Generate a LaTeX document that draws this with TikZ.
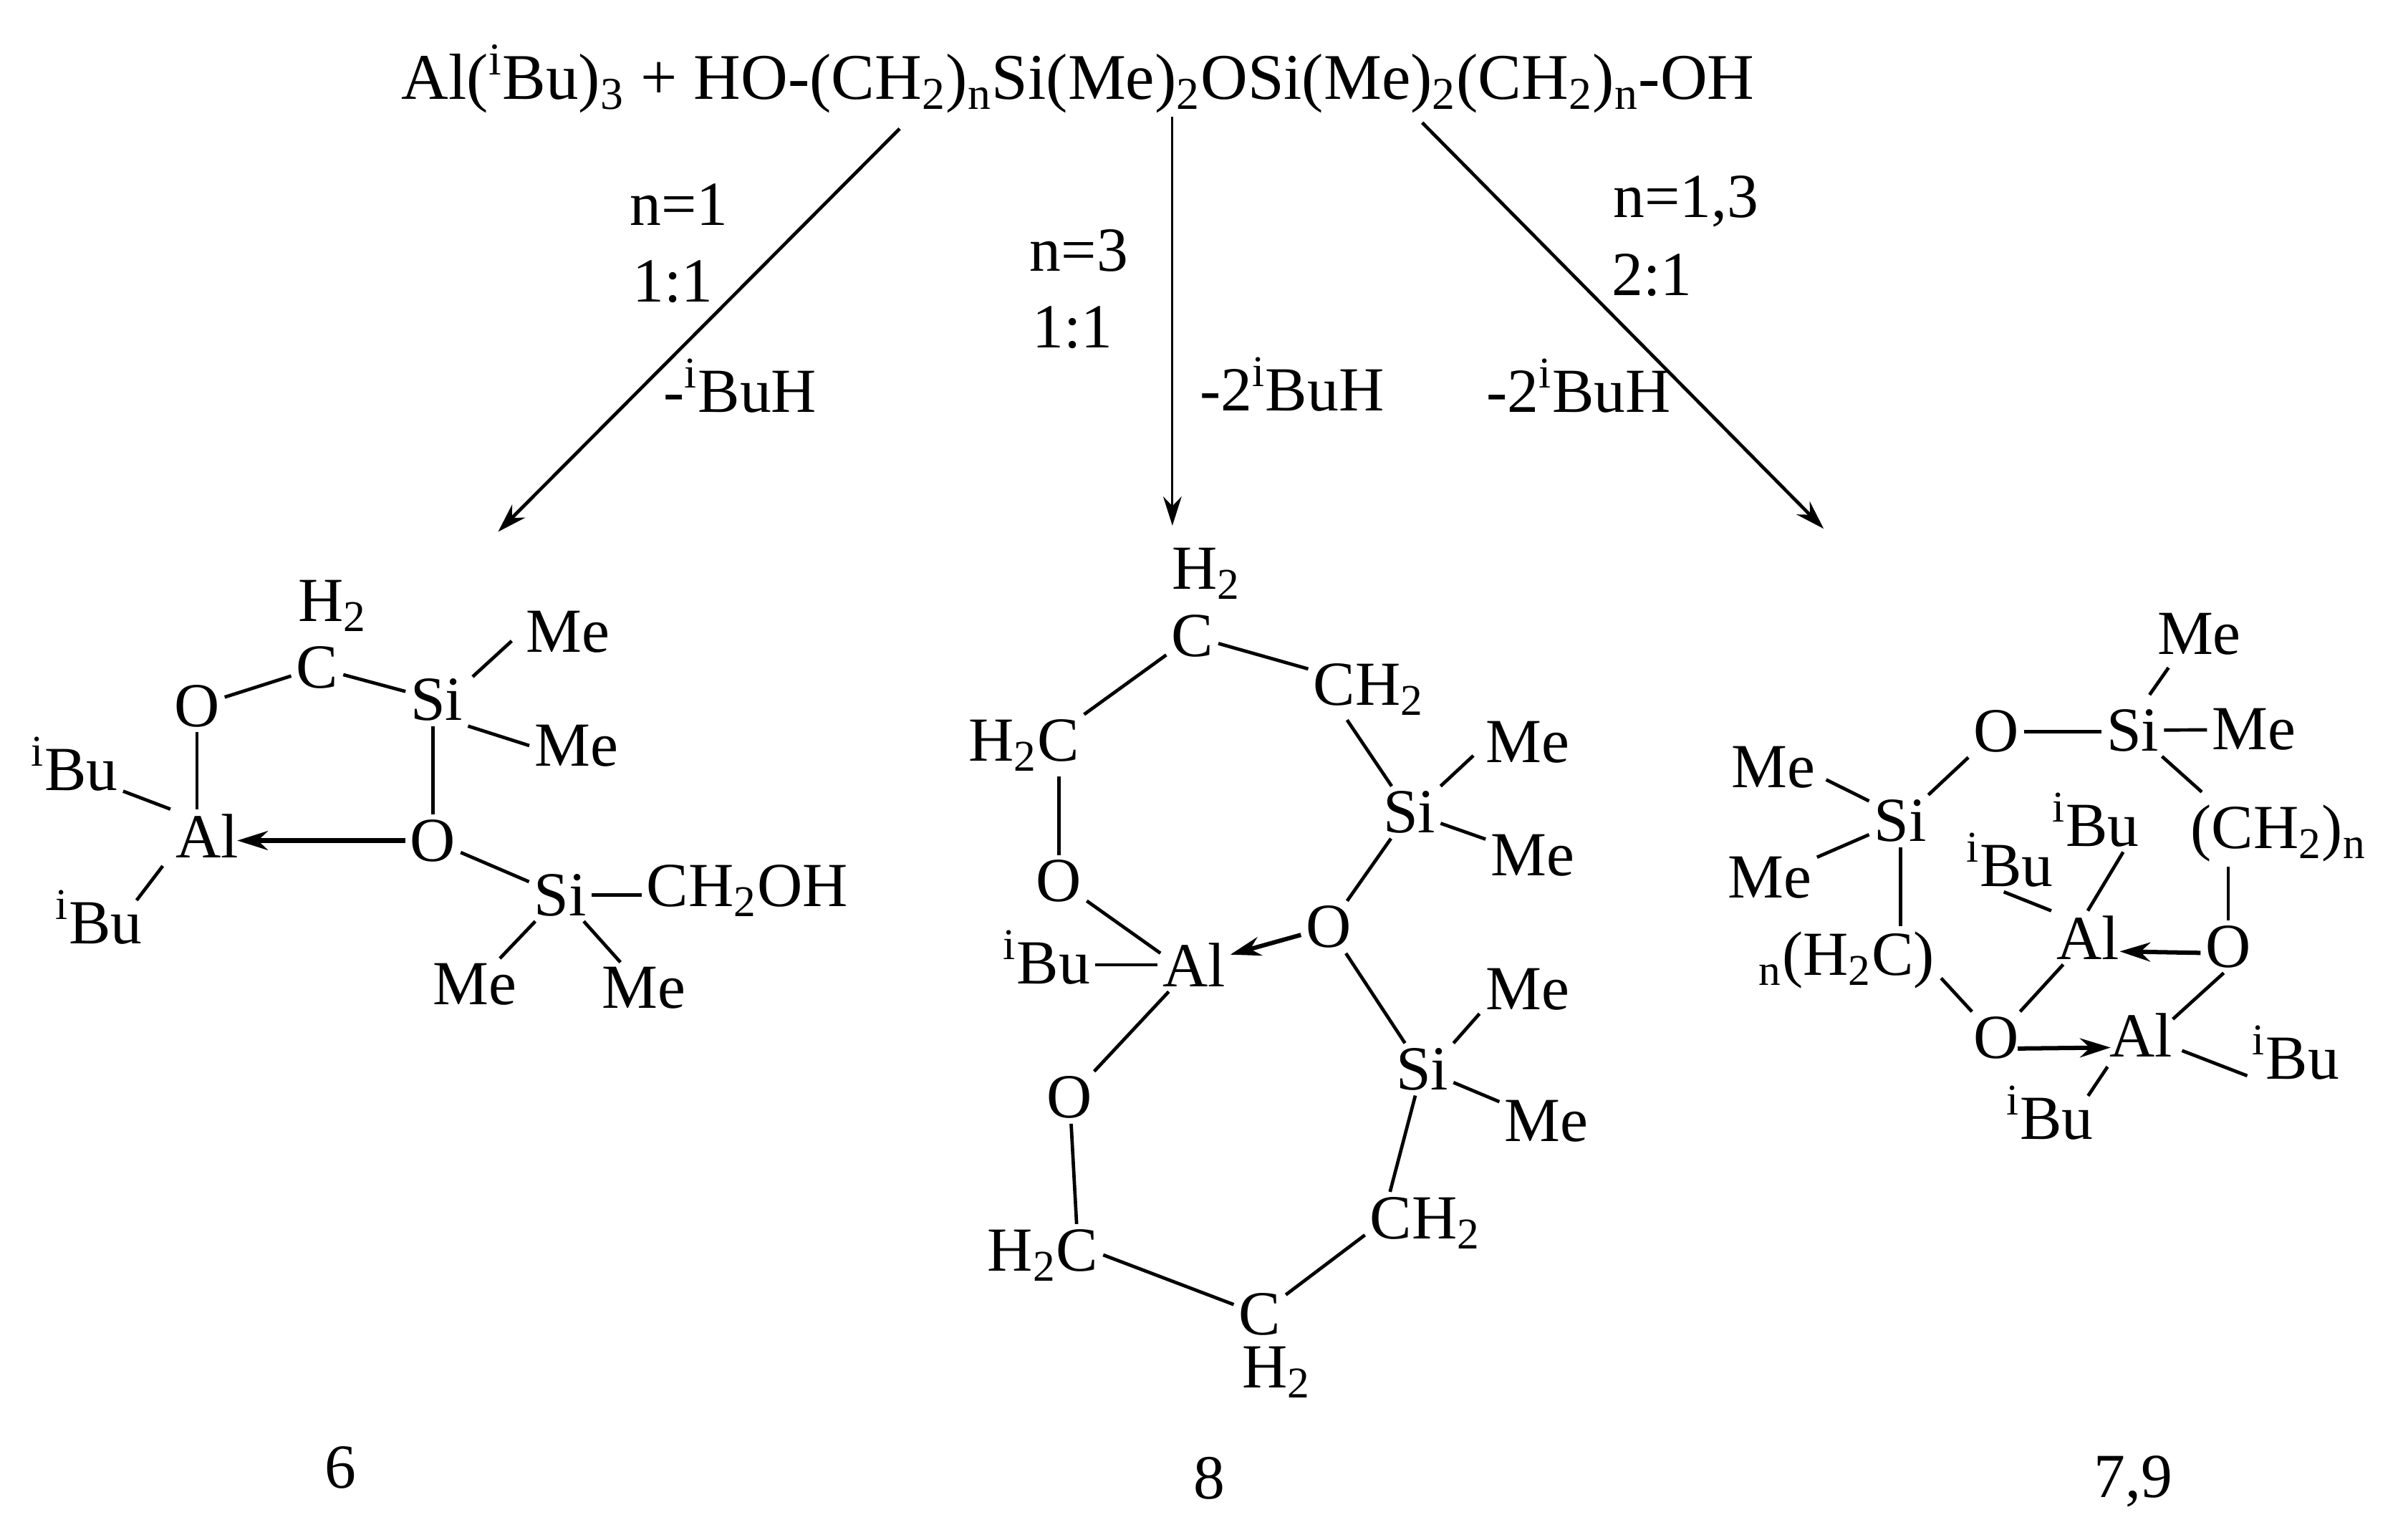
\documentclass[tikz,border=0pt]{standalone}
\usepackage{fontspec}
\setmainfont{Liberation Serif}
\usetikzlibrary{arrows.meta}
\newcommand{\iBu}{\textsuperscript{i}Bu}
\newcommand{\two}{\textsubscript{2}}
\tikzset{
  atom/.style={anchor=base, inner sep=1.7pt, font=\fontsize{23.3}{26}\selectfont},
  bond/.style={line width=1.25pt},
  dative/.style={line width=1.6pt, -{Stealth[length=0.4cm,width=0.25cm]}},
  route/.style={line width=1.25pt, -{Stealth[length=0.38cm,width=0.24cm]}},
}
\begin{document}
\begin{tikzpicture}[x=0.02cm,y=-0.02cm]
\useasboundingbox (0,0) rectangle (1568,1004.8);
% reaction line
\node[atom, font=\fontsize{24.2}{27}\selectfont] (start) at (703.5,64.7) {Al(\iBu)\textsubscript{3} + HO-(CH\two)\textsubscript{n}Si(Me)\two OSi(Me)\two(CH\two)\textsubscript{n}-OH};
\coordinate (from6) at (587,84);
\coordinate (to6) at (325,347);
\coordinate (from8) at (765,76);
\coordinate (to8) at (765,343);
\coordinate (from79) at (928,80);
\coordinate (to79) at (1190,345);
\draw[route] (from6)--(to6);
\draw[route, line width=0.8pt] (from8)--(to8);
\draw[route] (from79)--(to79);
%
\node[atom] (cond6a) at (443,147) {n=1};
\node[atom] (cond6b) at (439,197) {1:1};
\node[atom] (cond6c) at (483,269) {-\iBu H};
\node[atom] (cond8a) at (704,177) {n=3};
\node[atom] (cond8b) at (700,227) {1:1};
\node[atom] (cond8c) at (843,268) {-2\iBu H};
\node[atom] (cond79a) at (1100,142) {n=1,3};
\node[atom] (cond79b) at (1078,193) {2:1};
\node[atom] (cond79c) at (1030,269) {-2\iBu H};
%
% compound 6
\node[atom] (h6) at (217,405.4) {H\two};
\node[atom] (c6) at (207,449) {C};
\node[atom] (o6a) at (128.5,474) {O};
\node[atom] (si6a) at (285,470) {Si};
\node[atom] (me6a) at (370.5,425.5) {Me};
\node[atom] (me6b) at (376,499.7) {Me};
\node[atom] (bu6a) at (48.7,515.5) {\iBu};
\node[atom] (al6) at (135,559.7) {Al};
\node[atom] (o6b) at (282.5,561.8) {O};
\node[atom] (bu6b) at (64.5,615.6) {\iBu};
\node[atom] (si6b) at (365.6,597.4) {Si};
\node[atom] (ch6) at (487.6,591.5) {CH\two OH};
\node[atom] (me6c) at (310,655.5) {Me};
\node[atom] (me6d) at (420,658) {Me};
\node[atom] (num6) at (222,971) {6};
%
\draw[bond] (o6a)--(c6);
\draw[bond] (c6)--(si6a);
\draw[bond] ([shift={(3,2)}]si6a.north east)--([shift={(-6,-11)}]me6a.south west);
\draw[bond] (si6a.south east)--(me6b.west);
\draw[bond] (o6b |- si6a.south)--(o6b.north);
\draw[bond] (o6a.south)--(o6a |- al6.north);
\draw[bond] ([shift={(0,-3)}]bu6a.south east)--(al6.north west);
\draw[bond] ([shift={(-5,2)}]al6.south west)--([shift={(-7,10)}]bu6b.north east);
\draw[dative] (o6b.west)--([shift={(-4,0)}]o6b.west -| al6.east);
\draw[bond] (o6b)--(si6b);
\draw[bond] (si6b)--(ch6.west |- si6b);
\draw[bond] (si6b)--(me6c);
\draw[bond] (si6b)--(me6d);
%
% compound 8
\node[atom] (h8a) at (787,384.2) {H\two};
\node[atom] (c8a) at (778,428.4) {C};
\node[atom] (ch8a) at (893,459.9) {CH\two};
\node[atom] (ch8b) at (668,496.6) {H\two C};
\node[atom] (si8a) at (919.6,543.4) {Si};
\node[atom] (me8a) at (997,497.3) {Me};
\node[atom] (me8b) at (1000,571.5) {Me};
\node[atom] (o8a) at (691,588.3) {O};
\node[atom] (o8b) at (867,618.3) {O};
\node[atom] (bu8) at (683,641.9) {\iBu};
\node[atom] (al8) at (779,643.7) {Al};
\node[atom] (o8c) at (698,729.5) {O};
\node[atom] (si8b) at (928,711.1) {Si};
\node[atom] (me8c) at (997,658.7) {Me};
\node[atom] (me8d) at (1009,744.9) {Me};
\node[atom] (ch8c) at (930,808.1) {CH\two};
\node[atom] (ch8d) at (680.5,829.1) {H\two C};
\node[atom] (c8b) at (822,871) {C};
\node[atom] (h8b) at (833,905.5) {H\two};
\node[atom] (num8) at (789,978) {8};
%
\draw[bond] (c8a)--(ch8b.north east);
\draw[bond] (c8a)--([shift={(0,7)}]ch8a.north west);
\draw[bond] (o8a |- ch8b.south)--(o8a.north);
\draw[bond] (o8a)--([shift={(2,10)}]al8.north west);
\draw[bond] (bu8.east |- al8)--(al8.west);
\draw[dative] (o8b)--(al8);
\draw[bond] ([shift={(-14,0)}]ch8a.south)--(si8a);
\draw[bond] (si8a.north east)--([shift={(-5,-8)}]me8a.south west);
\draw[bond] (si8a)--(me8b);
\draw[bond] (si8a)--(o8b);
\draw[bond] (o8b)--(si8b);
\draw[bond] (si8b.north east)--([shift={(-1,-1)}]me8c.south west);
\draw[bond] (si8b)--(me8d);
\draw[bond] (si8b)--([shift={(-23,0)}]ch8c.north);
\draw[bond] (al8)--(o8c);
\draw[bond] (o8c)--([shift={(22,0)}]ch8d.north);
\draw[bond] (ch8d.east)--(c8b);
\draw[bond] (c8b)--([shift={(0,8)}]ch8c.west);
%
% compound 7,9
\node[atom] (me9a) at (1435,426.9) {Me};
\node[atom] (o9a) at (1302.5,490.6) {O};
\node[atom] (si9a) at (1391.6,489.8) {Si};
\node[atom] (me9b) at (1470.7,489.3) {Me};
\node[atom] (me9c) at (1157,514) {Me};
\node[atom] (si9b) at (1240,549.1) {Si};
\node[atom] (bu9a) at (1367.4,552.2) {\iBu};
\node[atom] (bu9b) at (1311.5,578.2) {\iBu};
\node[atom] (ch9a) at (1486.7,553.5) {(CH\two)\textsubscript{n}};
\node[atom] (me9d) at (1155,585.8) {Me};
\node[atom] (ch9b) at (1205,636.2) {\textsubscript{n}(H\two C)};
\node[atom] (al9a) at (1362.3,626) {Al};
\node[atom] (o9b) at (1454,631.1) {O};
\node[atom] (o9c) at (1302.5,690.5) {O};
\node[atom] (al9b) at (1397,689.7) {Al};
\node[atom] (bu9c) at (1498,704.2) {\iBu};
\node[atom] (bu9d) at (1337.5,743.2) {\iBu};
\node[atom] (num9) at (1392,977) {7,9};
%
\draw[bond] ([shift={(-20,5)}]me9a.south)--([shift={(11,-6)}]si9a.north);
\draw[bond] (o9a.east)--(si9a.west |- o9a.east);
\draw[bond] (si9a)--(me9b);
\draw[bond] (si9a)--([shift={(-50,-5)}]ch9a.north);
\draw[bond] (o9a)--(si9b);
\draw[bond] ([shift={(4,-9)}]me9c.south east)--([shift={(0,4)}]si9b.north west);
\draw[bond] (si9b)--(me9d);
\draw[bond] (si9b)--(si9b |- ch9b.north);
\draw[bond] (o9b |- ch9a.south)--(o9b.north);
\draw[bond] ([shift={(18,0)}]bu9a.south)--(al9a.north);
\draw[bond] ([shift={(-4,0)}]bu9b.south)--(al9a.north west);
\draw[dative] ([shift={(0,4)}]o9b.west)--([shift={(-3,9)}]al9a.east);
\draw[bond] (al9a)--(o9c);
\draw[bond] ([shift={(1,-10)}]ch9b.south east)--(o9c);
\draw[bond] ([shift={(-3,0)}]o9b.south)--([shift={(-3,7)}]al9b.north east);
\draw[dative] ([shift={(-4,7)}]o9c.east)--([shift={(4,8)}]al9b.west);
\draw[bond] ([shift={(3,10)}]al9b.east)--([shift={(0,-6)}]bu9c.south west);
\draw[bond] ([shift={(2,3)}]al9b.south west)--([shift={(25,10)}]bu9d.north);
\end{tikzpicture}
\end{document}
